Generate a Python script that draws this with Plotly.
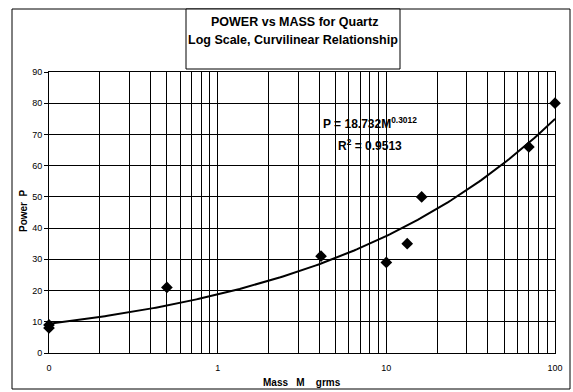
import numpy as np
import plotly.graph_objects as go

# Data
mass = [0.1, 0.1, 0.5, 4.1, 10, 13.3, 16.2, 70, 100]
power = [8, 9, 21, 31, 29, 35, 50, 66, 80]

# Power-law trendline coefficients shown on the chart
coef_a = 18.732
coef_b = 0.3012
r_squared = 0.9513

# Axis ticks
x_decades = [0.1, 1, 10, 100]
x_decade_labels = ["0", "1", "10", "100"]
y_ticks = [0, 10, 20, 30, 40, 50, 60, 70, 80, 90]

# Minor log grid (2..9 per decade)
x_minor = [round(d * m, 6) for d in [0.1, 1, 10] for m in range(2, 10)]

fit_x = np.logspace(np.log10(min(mass)), np.log10(max(mass)), 200)
fit_y = coef_a * fit_x ** coef_b

FONT = "Liberation Sans, Arial, sans-serif"

fig = go.Figure()
fig.add_trace(go.Scatter(x=fit_x, y=fit_y, mode="lines",
                         line=dict(color="black", width=2), hoverinfo="skip"))
fig.add_trace(go.Scatter(x=mass, y=power, mode="markers", cliponaxis=False,
                         marker=dict(symbol="diamond", size=9, color="black")))

W, H = 573, 392
L, R, T, B = 49, 18, 72, 39
pw, ph = W - L - R, H - T - B

def px(xp):
    return (xp - L) / pw

def py(yp):
    return (H - B - yp) / ph

fig.update_layout(
    width=W, height=H,
    margin=dict(l=L, r=R, t=T, b=B, autoexpand=False),
    paper_bgcolor="white", plot_bgcolor="white",
    showlegend=False,
    font=dict(family=FONT, color="black"),
    xaxis=dict(
        type="log", range=[-1, 2], automargin=False,
        tickvals=x_decades, ticktext=x_decade_labels,
        showgrid=True, gridcolor="black", gridwidth=1,
        minor=dict(tickvals=x_minor, showgrid=True, gridcolor="black", gridwidth=1, ticks=""),
        showline=True, linecolor="black", linewidth=1, mirror=True,
        ticks="", tickfont=dict(size=9, family=FONT, color="black"),
        ticklabelstandoff=6,
        zeroline=False,
    ),
    yaxis=dict(
        range=[0, 90], tickvals=y_ticks, automargin=False,
        showgrid=True, gridcolor="black", gridwidth=1,
        showline=True, linecolor="black", linewidth=1, mirror=True,
        ticks="outside", ticklen=4, tickcolor="black",
        tickfont=dict(size=9, family=FONT, color="black"),
        zeroline=False,
    ),
    shapes=[
        dict(type="rect", xref="paper", yref="paper",
             x0=px(12), x1=px(570), y0=py(389), y1=py(9),
             line=dict(color="black", width=1), fillcolor="rgba(0,0,0,0)"),
        dict(type="rect", xref="paper", yref="paper",
             x0=px(186), x1=px(400), y0=py(69), y1=py(9),
             line=dict(color="black", width=1), fillcolor="white"),
    ],
    annotations=[
        dict(xref="paper", yref="paper", x=px(294), y=py(22), showarrow=False,
             text="<b>POWER vs MASS for Quartz</b>", xanchor="center", yanchor="middle",
             font=dict(size=12.5, family=FONT, color="black")),
        dict(xref="paper", yref="paper", x=px(293), y=py(40), showarrow=False,
             text="<b>Log Scale, Curvilinear Relationship</b>", xanchor="center", yanchor="middle",
             font=dict(size=12.5, family=FONT, color="black")),
        dict(xref="paper", yref="paper", x=px(321), y=py(123), showarrow=False,
             text=f"<b>P = {coef_a}M<sup>{coef_b}</sup></b>", xanchor="left", yanchor="middle",
             font=dict(size=12, family=FONT, color="black")),
        dict(xref="paper", yref="paper", x=px(336), y=py(145), showarrow=False,
             text=f"<b>R<sup>2</sup> = {r_squared}</b>", xanchor="left", yanchor="middle",
             font=dict(size=12, family=FONT, color="black")),
        # axis titles
        dict(xref="paper", yref="paper", x=px(302), y=py(382), showarrow=False,
             text="<b>Mass\u00a0\u00a0\u00a0M\u00a0\u00a0\u00a0\u00a0grms</b>",
             xanchor="center", yanchor="middle",
             font=dict(size=10, family=FONT, color="black")),
        dict(xref="paper", yref="paper", x=px(23), y=py(211), showarrow=False,
             text="<b>Power\u00a0\u00a0P</b>", textangle=-90,
             xanchor="center", yanchor="middle",
             font=dict(size=10, family=FONT, color="black")),
    ],
)

fig.write_html("out.html", config={"displayModeBar": False},
               post_script="document.body.style.margin='0';")
